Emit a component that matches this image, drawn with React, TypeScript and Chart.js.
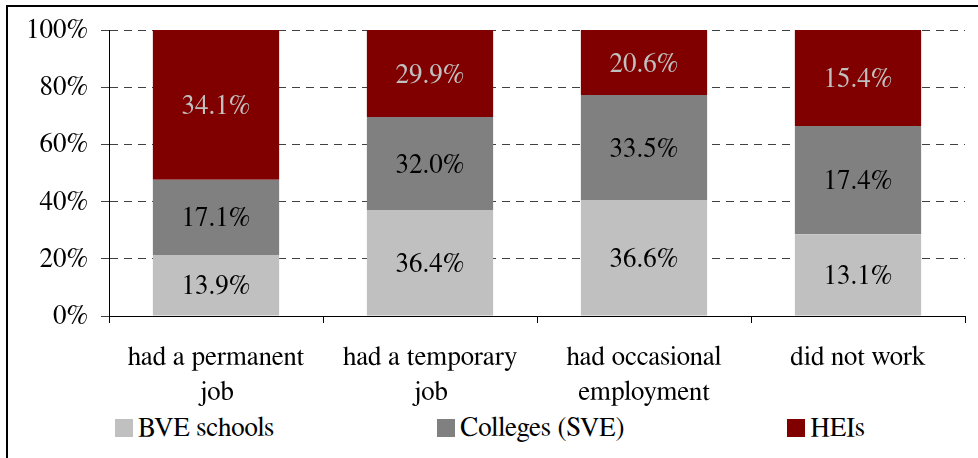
import React, { useEffect, useRef } from "react";
import { Chart, registerables } from "chart.js";

Chart.register(...registerables);

const categories: (string | string[])[] = [
  ["had a permanent", "job"],
  ["had a temporary", "job"],
  ["had occasional", "employment"],
  "did not work",
];
const seriesNames = ["BVE schools", "Colleges (SVE)", "HEIs"];
const bveSchools = [13.9, 36.4, 36.6, 13.1];
const colleges = [17.1, 32.0, 33.5, 17.4];
const heis = [34.1, 29.9, 20.6, 15.4];
const seriesColors = ["#C0C0C0", "#808080", "#800000"];
const labelColors = ["#000000", "#000000", "#C0C0C0"];
const yTicks = [0, 20, 40, 60, 80, 100];

const FONT = "FreeSerif, 'Liberation Serif', serif";
const FS = 27;

const rawSeries = [bveSchools, colleges, heis];
const totals = categories.map((_, j) => rawSeries.reduce((s, arr) => s + arr[j], 0));
const shares = rawSeries.map((arr) => arr.map((v, j) => (v / totals[j]) * 100));

const barLabelPlugin = {
  id: "barLabels",
  afterDatasetsDraw(chart: any) {
    const ctx = chart.ctx;
    ctx.save();
    ctx.font = `${FS}px ${FONT}`;
    ctx.textAlign = "center";
    ctx.textBaseline = "middle";
    chart.data.datasets.forEach((ds: any, i: number) => {
      const meta = chart.getDatasetMeta(i);
      meta.data.forEach((el: any, j: number) => {
        const { x, y, base } = el.getProps(["x", "y", "base"], true);
        ctx.fillStyle = labelColors[i];
        ctx.fillText(rawSeries[i][j].toFixed(1) + "%", x, (y + base) / 2 + 1);
      });
    });
    ctx.restore();
  },
};

export default function App() {
  const canvasRef = useRef<HTMLCanvasElement | null>(null);

  useEffect(() => {
    if (!canvasRef.current) return;
    const chart = new Chart(canvasRef.current, {
      type: "bar",
      data: {
        labels: categories,
        datasets: seriesNames.map((name, i) => ({
          label: name,
          data: shares[i],
          backgroundColor: seriesColors[i],
          borderWidth: 0,
          categoryPercentage: 1,
          barPercentage: 0.59,
        })),
      },
      options: {
        responsive: false,
        animation: false,
        events: [],
        layout: { padding: { top: 23, right: 13, bottom: 0, left: 0 } },
        plugins: {
          legend: { display: false },
          tooltip: { enabled: false },
        },
        scales: {
          x: {
            stacked: true,
            offset: true,
            grid: {
              offset: true,
              drawOnChartArea: false,
              drawTicks: true,
              tickLength: 7,
              color: "#000000",
            },
            border: { display: true, color: "#000000", width: 1 },
            ticks: {
              color: "#000000",
              font: { family: FONT, size: FS, lineHeight: 1.3 },
              padding: 16,
              maxRotation: 0,
              autoSkip: false,
            },
            afterFit(scale: any) {
              scale.height = 91;
              scale.paddingLeft = 0;
              scale.paddingRight = 0;
            },
          },
          y: {
            stacked: true,
            min: 0,
            max: 100,
            afterBuildTicks(scale: any) {
              scale.ticks = yTicks.map((v) => ({ value: v }));
            },
            grid: {
              color: "#404040",
              lineWidth: 1,
              tickLength: 8,
              tickColor: "#404040",
              borderDash: [8, 6],
              dash: [8, 6],
            } as any,
            border: { display: true, color: "#000000", width: 1, dash: [8, 6] },
            ticks: {
              color: "#000000",
              font: { family: FONT, size: FS },
              padding: 13,
              callback: (v: any) => v + "%",
            },
            afterFit(scale: any) {
              scale.width = 101;
              scale.paddingTop = 0;
              scale.paddingBottom = 0;
            },
          },
        },
      },
      plugins: [barLabelPlugin],
    } as any);
    return () => chart.destroy();
  }, []);

  return (
    <div
      style={{
        position: "absolute",
        left: 6,
        top: 5,
        width: 970,
        height: 451,
        borderLeft: "2px solid #000",
        borderTop: "2px solid #000",
        overflow: "hidden",
        background: "#fff",
      }}
    >
      <canvas ref={canvasRef} width={970} height={400} style={{ display: "block", width: 970, height: 400 }} />
      <div
        style={{
          width: 964,
          marginTop: 6,
          display: "flex",
          justifyContent: "center",
          gap: 163,
          fontFamily: FONT,
          fontSize: FS,
          lineHeight: "30px",
          color: "#000",
        }}
      >
        {seriesNames.map((name, i) => (
          <div key={name} style={{ display: "flex", alignItems: "center", whiteSpace: "nowrap" }}>
            <span
              style={{
                display: "inline-block",
                width: 18,
                height: 18,
                background: seriesColors[i],
                marginRight: 5,
              }}
            />
            <span>{name}</span>
          </div>
        ))}
      </div>
    </div>
  );
}
